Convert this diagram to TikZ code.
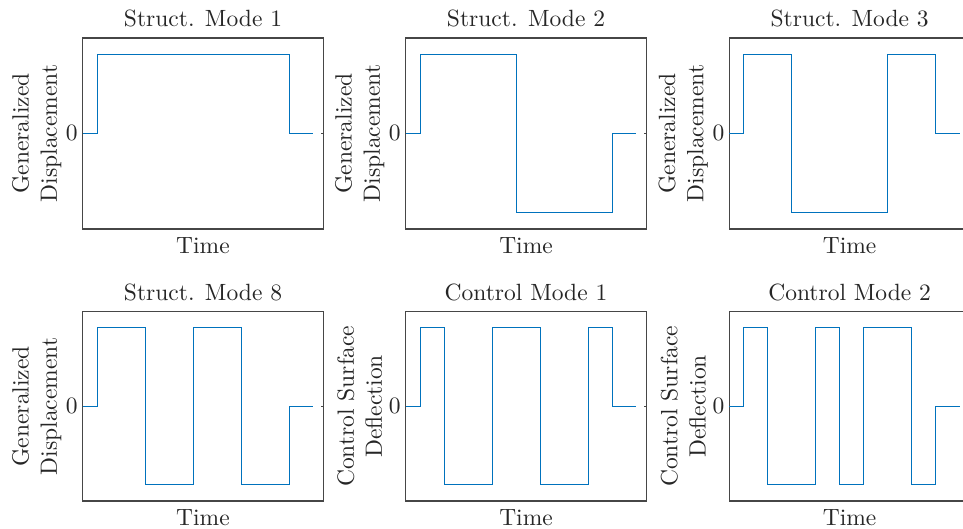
\documentclass[tikz,border=0pt]{standalone}
\definecolor{mblue}{RGB}{0,114,189}
\definecolor{axgray}{RGB}{70,70,70}
\definecolor{txt}{RGB}{38,38,38}
\tikzset{
  axbox/.style={draw=axgray, line width=1.1pt},
  axtick/.style={draw=axgray, line width=1pt},
  sig/.style={draw=mblue, line width=0.95pt, line join=miter},
  lbl/.style={scale=2.35, inner sep=0pt, text=txt},
}
% #1 name, #2 left, #3 top, #4 bottom, #5 zero level, #6 amplitude, #7 title, #8 ylabel, #9 pattern
\newcommand{\plotpanel}[9]{%
  \coordinate (#1nw) at (#2,#3);
  \coordinate (#1se) at ({#2+240.6},#4);
  \coordinate (#1rz) at ({#2+240.6},#5);
  \coordinate (#1rt) at ({#2+238},#5);
  \draw[axbox] (#1nw) rectangle (#1se);
  \draw[axtick] (#1rz) -- (#1rt);
  \draw[sig] (#2,#5) -- ({#2+14.6},#5)
    \foreach \v [count=\k from 0] in {#9} {
      -- ({#2+14.6+24*\k},{#5-#6*\v}) -- ({#2+38.6+24*\k},{#5-#6*\v})
    } -- ({#2+206.6},#5) -- ({#2+230.6},#5);
  \node[lbl, anchor=base] (#1title) at ({#2+120.3},{#3-11.3}) {#7};
  \node[lbl, anchor=base] (#1time) at ({#2+120.3},{#4+24.3}) {Time};
  \node[lbl, anchor=east] (#1zero) at ({#2-4.5},#5) {0};
  \node[lbl, rotate=90, align=center] (#1ylab) at ({#2-46},{(#3+#4)/2}) {#8};
}
\begin{document}
\begin{tikzpicture}[x=1pt, y=-1pt]
  \path[use as bounding box, clip] (0,0) rectangle (963,529);
  \fill[white] (0,0) rectangle (963,529);
  \plotpanel{a}{82.7}{38}{229}{133.3}{79.2}{Struct. Mode 1}{Generalized\\Displacement}{1,1,1,1,1,1,1,1}
  \plotpanel{b}{405.7}{38}{229}{133.3}{79.2}{Struct. Mode 2}{Generalized\\Displacement}{1,1,1,1,-1,-1,-1,-1}
  \plotpanel{c}{729.3}{38}{229}{133.3}{79.2}{Struct. Mode 3}{Generalized\\Displacement}{1,1,-1,-1,-1,-1,1,1}
  \plotpanel{d}{82.7}{311.7}{501}{406}{78.7}{Struct. Mode 8}{Generalized\\Displacement}{1,1,-1,-1,1,1,-1,-1}
  \plotpanel{e}{405.7}{311.7}{501}{406}{78.7}{Control Mode 1}{Control Surface\\Deflection}{1,-1,-1,1,1,-1,-1,1}
  \plotpanel{f}{729.3}{311.7}{501}{406}{78.7}{Control Mode 2}{Control Surface\\Deflection}{1,-1,-1,1,-1,1,1,-1}
\end{tikzpicture}
\end{document}
